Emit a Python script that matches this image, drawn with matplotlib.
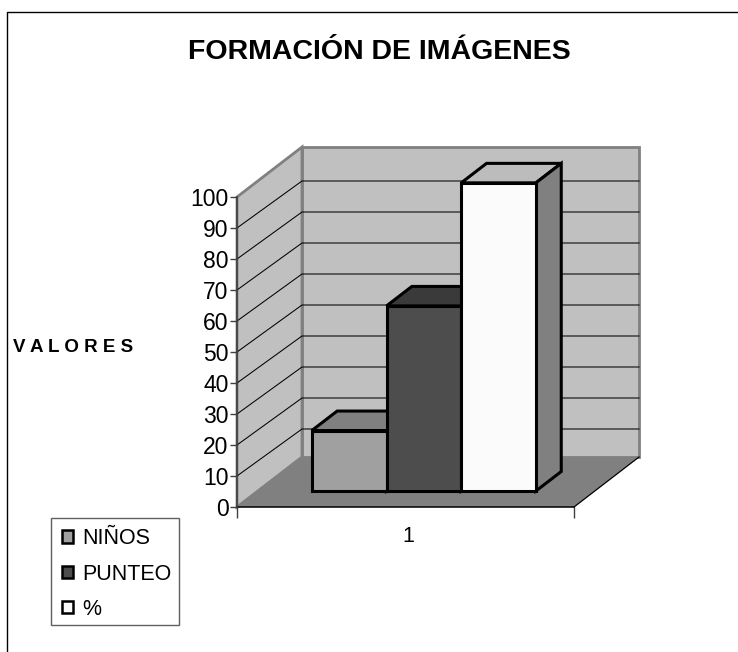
import matplotlib
matplotlib.use('Agg')
import matplotlib.pyplot as plt
from matplotlib.patches import Polygon, Rectangle
from matplotlib.lines import Line2D

plt.rcParams['font.family'] = ['Liberation Sans', 'DejaVu Sans']

W, H = 738, 652

# data
series = ['NIÑOS', 'PUNTEO', '%']
values = [19.5, 59.7, 99.4]
y_ticks = list(range(0, 101, 10))
category = '1'

front_c = ['#a0a0a0', '#4d4d4d', '#fbfbfb']
top_c = ['#808080', '#3a3a3a', '#bcbcbc']
side_c = '#808080'
wall_c = '#c0c0c0'
floor_c = '#808080'

fig = plt.figure(figsize=(W / 100, H / 100), dpi=100)

# front plane of the fake 3d box, in pixels
x0, x1 = 237, 574
y0, y1 = 507, 197
ax = fig.add_axes([x0 / W, 1 - y0 / H, (x1 - x0) / W, (y0 - y1) / H])
ax.set_xlim(0, 1)
ax.set_ylim(0, 100)
ax.patch.set_visible(False)

# depth offset of the whole box, in data units
depth_x = 65 / (x1 - x0)
depth_y = 50 / (y0 - y1) * 100
grid_depth_y = 47 / (y0 - y1) * 100


def proj(x, y, d):
    # oblique projection, d=0 front, d=1 back wall
    return (x + d * depth_x, y + d * depth_y)


def poly(pts, fc, ec='none', lw=0, z=1):
    ax.add_patch(Polygon(pts, closed=True, fc=fc, ec=ec, lw=lw, clip_on=False,
                         zorder=z, joinstyle='miter'))


# walls and floor
poly([proj(1, 0, 1), proj(0, 0, 1), proj(0, 100, 1), proj(1, 100, 1)], wall_c, '#808080', 2, 1)
poly([proj(0, 0, 0), proj(0, 0, 1), proj(0, 100, 1), proj(0, 100, 0)], wall_c, '#808080', 2, 1)
poly([proj(0, 0, 0), proj(1, 0, 0), proj(1, 0, 1), proj(0, 0, 1)], floor_c, z=1.5)
ax.plot([proj(1, 0, 0)[0], proj(1, 0, 1)[0]], [0, depth_y], color='black', lw=0.9, clip_on=False, zorder=1.6)
ax.plot([0, 1], [0, 0], color='black', lw=1.1, clip_on=False, zorder=1.6)

# gridlines on both walls
for v in y_ticks[1:-1]:
    ax.plot([0, depth_x, 1 + depth_x], [v, v + grid_depth_y, v + grid_depth_y],
            color='black', lw=0.75, clip_on=False, zorder=1.2)

# bars
bar_w = 74.7 / (x1 - x0)
bar_start = 54 / (x1 - x0)
d_front, d_back = 0.32, 0.71
edge = dict(ec='black', lw=2.2)
for i, v in enumerate(values):
    l = bar_start + i * bar_w
    r = l + bar_w
    poly([proj(l, v, d_front), proj(r, v, d_front), proj(r, v, d_back), proj(l, v, d_back)],
         top_c[i], z=2 + i, **edge)
    poly([proj(r, 0, d_front), proj(r, 0, d_back), proj(r, v, d_back), proj(r, v, d_front)],
         side_c, z=2 + i, **edge)
    poly([proj(l, 0, d_front), proj(r, 0, d_front), proj(r, v, d_front), proj(l, v, d_front)],
         front_c[i], z=2.5 + i, **edge)

# axes
for s in ['top', 'right', 'bottom']:
    ax.spines[s].set_visible(False)
ax.spines['left'].set_color('#404040')
ax.spines['left'].set_linewidth(1.2)
ax.set_yticks(y_ticks)
ax.tick_params(axis='y', labelsize=16.5, length=5, width=1, color='#404040', pad=1)
ax.set_xticks([0, 1])
ax.set_xticklabels(['', ''])
ax.tick_params(axis='x', length=8, width=1, color='#404040')
ax.set_xticks([0.507], minor=True)
ax.set_xticklabels([category], minor=True, fontsize=15.5)
ax.tick_params(axis='x', which='minor', length=0, pad=14)

# texts
fig.text(379.5 / W, 1 - 52 / H, 'FORMACIÓN DE IMÁGENES', fontsize=20.5, fontweight='bold',
         ha='center', va='center')
fig.text(13 / W, 1 - 348 / H, 'V A L O R E S', fontsize=13.5, fontweight='bold',
         ha='left', va='center')

# legend, frame drawn on its own so the rows can sit where they do in the original
fig.add_artist(Rectangle((51 / W, 1 - 625 / H), 128 / W, 107 / H, transform=fig.transFigure,
                         fc='white', ec='#606060', lw=1, zorder=1))
handles = [Rectangle((0, 0), 1, 1, fc=c, ec='black', lw=1.8) for c in front_c]
leg = fig.legend(handles, series, loc='lower left', bbox_to_anchor=(57 / W, 1 - 625 / H),
                 bbox_transform=fig.transFigure, fontsize=15.5, frameon=False,
                 borderpad=0.235, labelspacing=0.67, handlelength=0.5,
                 handleheight=0.5, handletextpad=0.45, borderaxespad=0)

# outer border of the picture
fig.add_artist(Line2D([7 / W, 7 / W, 738 / W], [0, 1 - 11.5 / H, 1 - 11.5 / H], color='black', lw=1))

fig.savefig('out.png', dpi=100)
